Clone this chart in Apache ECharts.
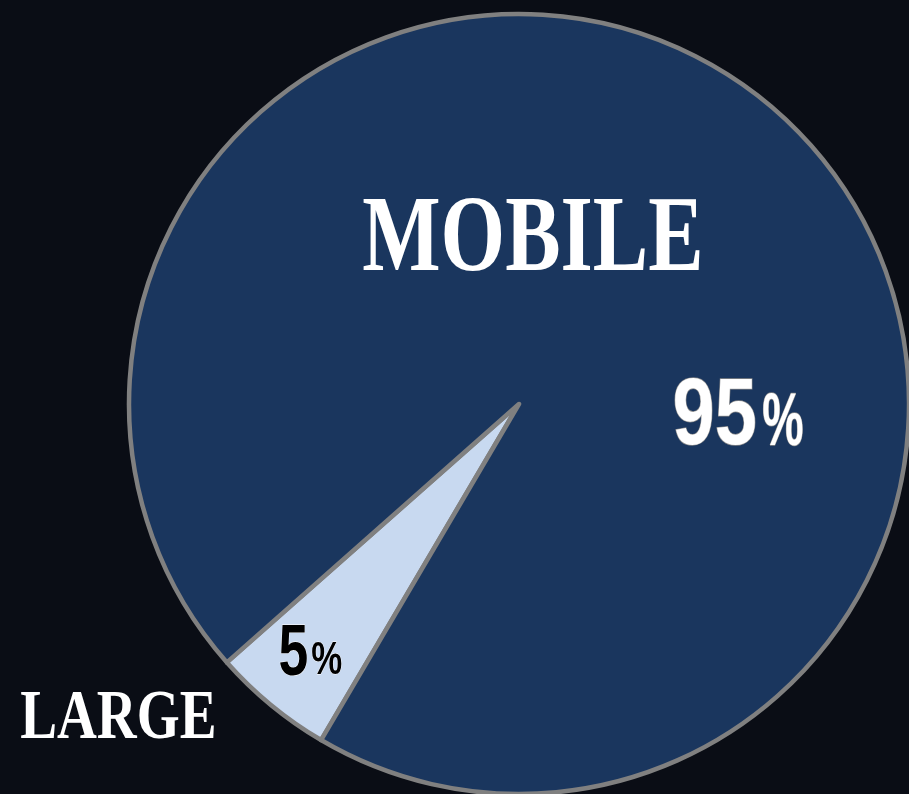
<!DOCTYPE html>
<html><head><meta charset="utf-8">
<script src="https://cdn.jsdelivr.net/npm/echarts@6/dist/echarts.min.js"></script>
<style>html,body{margin:0;padding:0;background:#0a0d15;}#c{width:909px;height:794px;}</style>
</head><body><div id="c"></div>
<script>
// ---- data ----
const categories = ['LARGE', 'MOBILE'];
const values = [5, 95];
const sliceColors = ['#c8d9f0', '#1a365e'];

// ---- helpers: fit a text's ink box to a target box ----
const mctx = document.createElement('canvas').getContext('2d');
function fitText(txt, family, weight, box, style) {
  // box: [left, top, right, bottom]
  mctx.textBaseline = 'alphabetic';
  mctx.font = weight + ' 100px ' + family;
  let m = mctx.measureText(txt);
  const h100 = m.actualBoundingBoxAscent + m.actualBoundingBoxDescent;
  const size = 100 * (box[3] - box[1]) / h100;
  mctx.font = weight + ' ' + size + 'px ' + family;
  mctx.textBaseline = 'middle';
  m = mctx.measureText(txt);
  const inkW = m.actualBoundingBoxLeft + m.actualBoundingBoxRight;
  const s = (box[2] - box[0]) / inkW;
  return Object.assign({
    type: 'text',
    x: box[0] + m.actualBoundingBoxLeft * s,
    y: box[1] + m.actualBoundingBoxAscent,
    scaleX: s, scaleY: 1,
    silent: true,
    z: 100,
    style: Object.assign({
      text: txt,
      fontFamily: family,
      fontWeight: weight,
      fontSize: size,
      align: 'left', textAlign: 'left',
      verticalAlign: 'middle', textVerticalAlign: 'middle',
      fill: '#ffffff'
    }, style || {})
  });
}

const total = values.reduce((a, b) => a + b, 0);
const pct = values.map(v => String(Math.round(v / total * 100)));

const serif = '"Liberation Serif", serif';
const sans = '"Liberation Sans", sans-serif';
const whiteNum = { fill: '#ffffff', stroke: '#8a8a8a', lineWidth: 1.5, strokeFirst: true };
const darkNum = { fill: '#000000', stroke: '#ffffff', lineWidth: 0.8, strokeFirst: true };

const graphics = [
  fitText(categories[1], serif, 'bold', [363, 198, 700, 271]),
  fitText(categories[0], serif, 'bold', [21, 691, 214, 738]),
  fitText(pct[1], sans, 'bold', [675, 378, 755, 445], whiteNum),
  fitText('%', sans, 'bold', [763, 393, 803, 445], whiteNum),
  fitText(pct[0], sans, 'bold', [280, 625, 307, 675], darkNum),
  fitText('%', sans, 'bold', [312, 642, 342, 675], darkNum)
];

const chart = echarts.init(document.getElementById('c'), null, { renderer: 'canvas' });
chart.setOption({
  backgroundColor: '#0a0d15',
  animation: false,
  series: [{
    type: 'pie',
    center: [519, 404],
    radius: 390,
    startAngle: 239.5,
    clockwise: true,
    silent: true,
    label: { show: false },
    labelLine: { show: false },
    itemStyle: { borderColor: '#808080', borderWidth: 4.5, borderJoin: 'round' },
    data: categories.map((c, i) => ({ name: c, value: values[i], itemStyle: { color: sliceColors[i] } }))
  }],
  graphic: graphics
});
</script>
</body></html>
